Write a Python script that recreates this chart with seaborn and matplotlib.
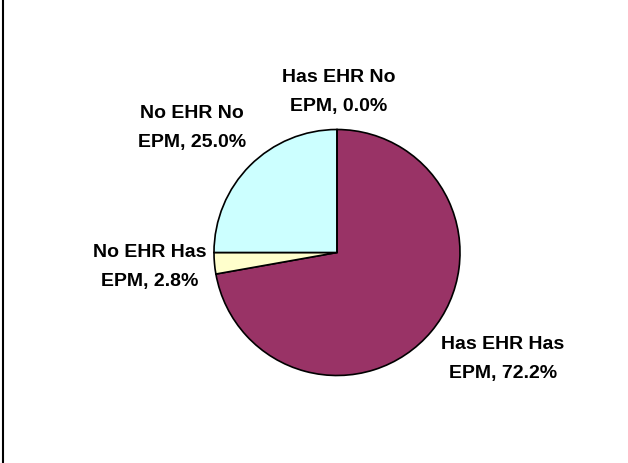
import matplotlib
matplotlib.use('Agg')
import seaborn as sns
from matplotlib import pyplot as plt
from matplotlib.lines import Line2D

# slices in clockwise order from 12 o'clock
categories = ['Has EHR Has EPM', 'No EHR Has EPM', 'No EHR No EPM', 'Has EHR No EPM']
shares = [72.2, 2.8, 25.0, 0.0]
label_lines = [
    ('Has EHR Has', 'EPM, 72.2%'),
    ('No EHR Has', 'EPM, 2.8%'),
    ('No EHR No', 'EPM, 25.0%'),
    ('Has EHR No', 'EPM, 0.0%'),
]
colors = ['#993366', '#FFFFCC', '#CCFFFF', '#FFFFFF']

sns.set_style('white')
plt.rcParams['font.family'] = ['Liberation Sans', 'DejaVu Sans']

W, H = 628, 463
fig = plt.figure(figsize=(W / 100, H / 100), dpi=100)
ax = fig.add_axes([0, 0, 1, 1])

# pie geometry in pixel units
cx, cy, r = 337, H - 252.5, 123
wedges, _ = ax.pie(
    shares,
    colors=colors,
    startangle=90,
    counterclock=False,
    center=(cx, cy),
    radius=r,
    wedgeprops={'edgecolor': 'black', 'linewidth': 1.2},
)
ax.set_xlim(0, W)
ax.set_ylim(0, H)
ax.set_aspect('equal')
ax.axis('off')

# label block centres, offset from the pie centre
label_offsets = [(166, -106.5), (-187, -14.5), (-145, 124.5), (2, 160.5)]
for (l1, l2), (dx, dy) in zip(label_lines, label_offsets):
    ax.text(
        cx + dx, cy + dy, l1 + '\n' + l2,
        ha='center', va='center', fontsize=14, fontweight='bold',
        linespacing=1.85, color='black',
    )

fig.add_artist(Line2D([3.3 / W, 3.3 / W], [0, 1], color='black', linewidth=1.5,
                      transform=fig.transFigure))

fig.savefig('out.png', dpi=100)
